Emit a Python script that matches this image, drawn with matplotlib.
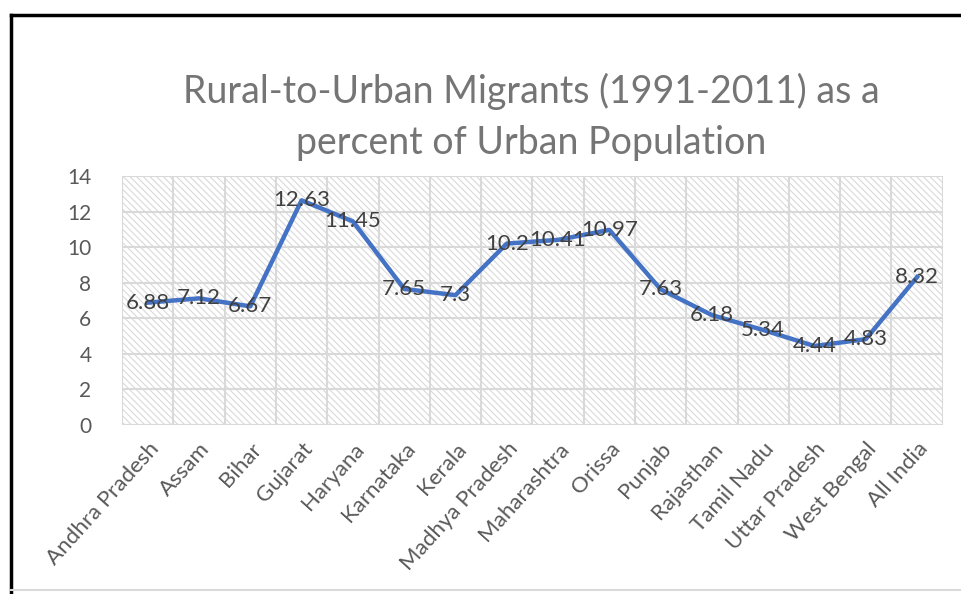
import numpy as np
import matplotlib
matplotlib.use("Agg")
import matplotlib.pyplot as plt
from matplotlib.patches import Rectangle
from matplotlib.lines import Line2D

# Rural-to-urban migrants (1991-2011) as percent of urban population
states = ["Andhra Pradesh", "Assam", "Bihar", "Gujarat", "Haryana", "Karnataka",
          "Kerala", "Madhya Pradesh", "Maharashtra", "Orissa", "Punjab",
          "Rajasthan", "Tamil Nadu", "Uttar Pradesh", "West Bengal", "All India"]
values = [6.88, 7.12, 6.67, 12.63, 11.45, 7.65, 7.3, 10.2, 10.41, 10.97,
          7.63, 6.18, 5.34, 4.44, 4.83, 8.32]
labels = ["6.88", "7.12", "6.67", "12.63", "11.45", "7.65", "7.3", "10.2",
          "10.41", "10.97", "7.63", "6.18", "5.34", "4.44", "4.83", "8.32"]
yticks = [0, 2, 4, 6, 8, 10, 12, 14]

plt.rcParams['font.family'] = ['Lato', 'DejaVu Sans']
plt.rcParams['hatch.linewidth'] = 0.8
plt.rcParams['hatch.color'] = '#d9d9d9'

fig = plt.figure(figsize=(9.61, 5.94), dpi=100)
ax = fig.add_axes([0.127, 0.2845, 0.854, 0.4192])

x = np.arange(len(states))
ax.set_xlim(-0.5, len(states) - 0.5)
ax.set_ylim(0, 14)

# hatched plot area
ax.add_patch(Rectangle((0, 0), 1, 1, transform=ax.transAxes, facecolor='white',
                       edgecolor='#d9d9d9', hatch='\\\\\\\\\\', lw=0, zorder=0))

ax.set_yticks(yticks)
ax.set_xticks(x)
ax.set_xticklabels(states, rotation=48, ha='right', rotation_mode='anchor')
ax.set_xticks(np.arange(-0.5, len(states)), minor=True)
ax.grid(axis='y', which='major', color='#d9d9d9', lw=1.5, zorder=1)
ax.grid(axis='x', which='minor', color='#d9d9d9', lw=1.5, zorder=1)
ax.tick_params(which='both', length=0)
ax.tick_params(axis='x', which='major', pad=10, labelsize=16, labelcolor='#595959')
ax.tick_params(axis='y', pad=22, labelsize=15, labelcolor='#595959')
for s in ax.spines.values():
    s.set_visible(False)
ax.axhline(0, color='#d9d9d9', lw=1.5, zorder=1)

ax.plot(x, values, color='#4472C4', lw=3.2, solid_joinstyle='round', zorder=3)
for xi, v, t in zip(x, values, labels):
    ax.text(xi, v, t, ha='center', va='center', fontsize=16, color='#404040', zorder=4)

fig.text(0.553, 0.803, "Rural-to-Urban Migrants (1991-2011) as a\npercent of Urban Population",
         ha='center', va='center', fontsize=27, color='#757575', linespacing=1.5)

# outer frame
fig.add_artist(Line2D([0.0115, 0.0115], [0, 0.975], color='black', lw=2.5))
fig.add_artist(Line2D([0.0115, 1.0], [0.975, 0.975], color='black', lw=2.5))
fig.add_artist(Line2D([0.0115, 1.0], [0.007, 0.007], color='#d9d9d9', lw=1.5))

fig.savefig('out.png', dpi=100)
